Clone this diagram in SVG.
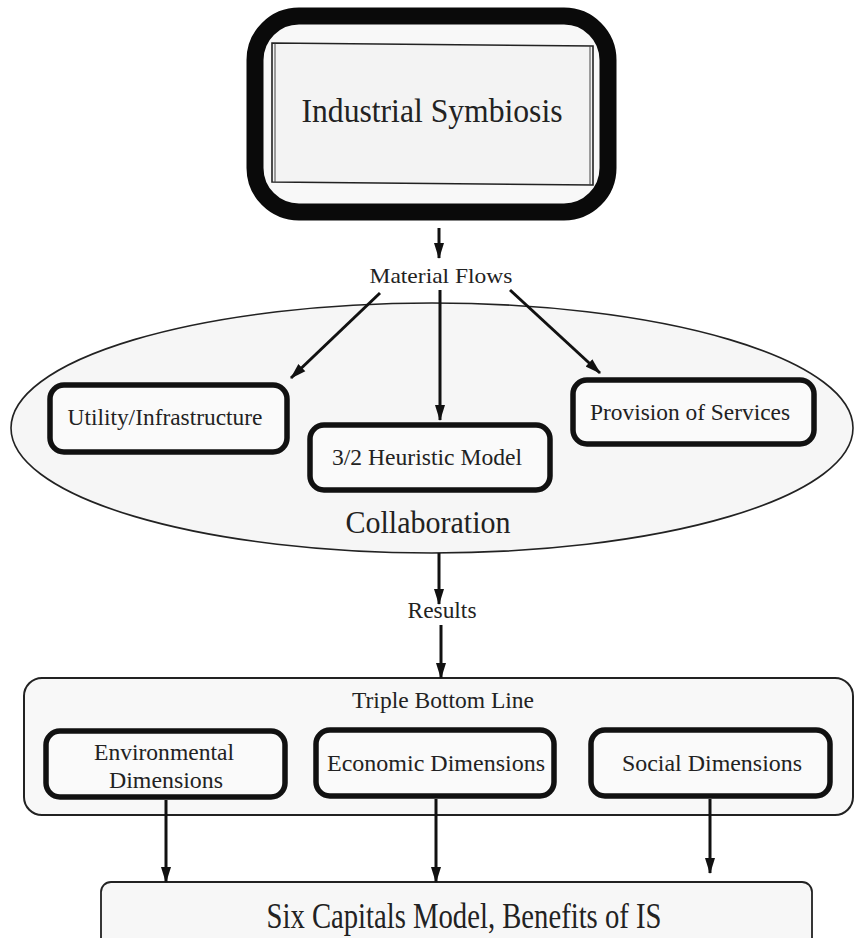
<svg xmlns="http://www.w3.org/2000/svg" width="855" height="938" viewBox="0 0 855 938">
  <style>
    .t { font-family: "Liberation Serif", "Times New Roman", serif; fill: #222; text-anchor: middle; }
    .box { fill: #fafafa; stroke: #111; stroke-width: 5.5; }
    .thin { fill: #f7f7f7; stroke: #222; stroke-width: 1.8; }
    .arrow { stroke: #111; stroke-width: 3; fill: none; marker-end: url(#head); }
  </style>
  <defs>
    <marker id="head" markerUnits="userSpaceOnUse" markerWidth="16" markerHeight="12" viewBox="0 0 16 12" refX="15" refY="6" orient="auto">
      <path d="M0,1 L16,6 L0,11 Z" fill="#111"/>
    </marker>
  </defs>
  <rect width="855" height="938" fill="#ffffff"/>

  <!-- top: framed title block -->
  <g id="industrial-symbiosis">
    <rect x="255" y="16" width="353" height="196" rx="44" fill="#f8f8f8" stroke="#0a0a0a" stroke-width="17"/>
    <polygon points="272,43 593,46 593,185 272,182" fill="#f3f3f3" stroke="#222" stroke-width="1.6"/>
    <line x1="275" y1="43.5" x2="275" y2="182" stroke="#444" stroke-width="1"/>
    <line x1="590" y1="46" x2="590" y2="185" stroke="#444" stroke-width="1"/>
    <text class="t" x="432" y="122" font-size="33" textLength="261" lengthAdjust="spacingAndGlyphs">Industrial Symbiosis</text>
  </g>

  <!-- collaboration ellipse with its three members -->
  <g id="collaboration">
    <ellipse cx="432" cy="428" rx="421" ry="125" fill="#f6f6f6" stroke="#222" stroke-width="1.6"/>
    <text class="t" x="428" y="533" font-size="31" textLength="165" lengthAdjust="spacingAndGlyphs">Collaboration</text>
  </g>
  <g id="utility">
    <rect class="box" x="50" y="385" width="237" height="67" rx="14"/>
    <text class="t" x="165" y="425" font-size="24" textLength="195" lengthAdjust="spacingAndGlyphs">Utility/Infrastructure</text>
  </g>
  <g id="heuristic">
    <rect class="box" x="310" y="425" width="240" height="65" rx="14"/>
    <text class="t" x="427" y="465" font-size="24" textLength="190" lengthAdjust="spacingAndGlyphs">3/2 Heuristic Model</text>
  </g>
  <g id="services">
    <rect class="box" x="573" y="380" width="241" height="64" rx="14"/>
    <text class="t" x="690" y="420" font-size="24" textLength="200" lengthAdjust="spacingAndGlyphs">Provision of Services</text>
  </g>

  <!-- triple bottom line panel -->
  <g id="triple-bottom-line">
    <rect x="24" y="678" width="829" height="137" rx="18" fill="#f8f8f8" stroke="#222" stroke-width="2"/>
    <text class="t" x="443" y="708" font-size="23" textLength="182" lengthAdjust="spacingAndGlyphs">Triple Bottom Line</text>
  </g>
  <g id="environmental">
    <rect class="box" x="46" y="731" width="239" height="66" rx="14"/>
    <text class="t" x="164" y="760" font-size="23" textLength="140" lengthAdjust="spacingAndGlyphs">Environmental</text>
    <text class="t" x="166" y="788" font-size="23" textLength="114" lengthAdjust="spacingAndGlyphs">Dimensions</text>
  </g>
  <g id="economic">
    <rect class="box" x="316" y="730" width="238" height="66" rx="14"/>
    <text class="t" x="436" y="771" font-size="23" textLength="218" lengthAdjust="spacingAndGlyphs">Economic Dimensions</text>
  </g>
  <g id="social">
    <rect class="box" x="591" y="730" width="239" height="66" rx="14"/>
    <text class="t" x="712" y="771" font-size="23" textLength="180" lengthAdjust="spacingAndGlyphs">Social Dimensions</text>
  </g>

  <!-- outcome -->
  <g id="six-capitals">
    <rect class="thin" x="101" y="882" width="711" height="70" rx="10"/>
    <text class="t" x="464" y="928" font-size="35" textLength="395" lengthAdjust="spacingAndGlyphs">Six Capitals Model, Benefits of IS</text>
  </g>

  <!-- connectors and their labels -->
  <g id="connectors">
    <line class="arrow" x1="439" y1="228" x2="439" y2="258"/>
    <text class="t" x="441" y="283" font-size="22" textLength="143" lengthAdjust="spacingAndGlyphs">Material Flows</text>
    <line class="arrow" x1="380" y1="293" x2="291" y2="378"/>
    <line class="arrow" x1="440" y1="290" x2="440" y2="420"/>
    <line class="arrow" x1="510" y1="290" x2="600" y2="373"/>
    <line class="arrow" x1="439" y1="553" x2="439" y2="604"/>
    <text class="t" x="442" y="618" font-size="23" textLength="69" lengthAdjust="spacingAndGlyphs">Results</text>
    <line class="arrow" x1="441" y1="625" x2="441" y2="678"/>
    <line class="arrow" x1="166" y1="800" x2="166" y2="882"/>
    <line class="arrow" x1="436" y1="799" x2="436" y2="882"/>
    <line class="arrow" x1="710" y1="799" x2="710" y2="873"/>
  </g>
</svg>
